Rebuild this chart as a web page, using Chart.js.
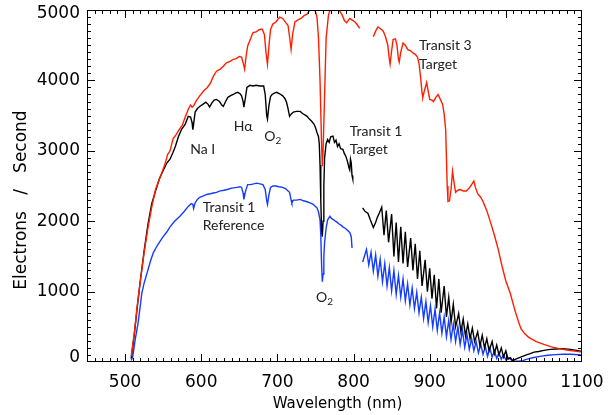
<!DOCTYPE html>
<html>
<head>
<meta charset="utf-8">
<script src="https://cdn.jsdelivr.net/npm/chart.js@4.4.1/dist/chart.umd.min.js"></script>
<style>
  html, body { margin: 0; padding: 0; background: #fff; }
  #wrap { width: 610px; height: 415px; position: relative; }
</style>
</head>
<body>
<div id="wrap"><canvas id="c"></canvas></div>
<script>
// ---- Data: [wavelength nm, electrons/second]; null marks a gap ----
const transit3Target = [
  [508,80],[512,400],[516,800],[520,1150],[525,1550],[530,1900],[535,2200],[540,2450],[545,2600],[548,2680],
  [552,2800],[556,2950],[559,3000],[563,3170],[567,3230],[571,3300],[575,3360],[579,3480],[583,3590],[586,3650],
  [588,3620],[590,3640],[594,3720],[598,3780],[603,3850],[608,3900],[612,3960],[616,4060],[620,4130],[625,4160],
  [629,4200],[633,4250],[638,4270],[642,4300],[646,4310],[650,4340],[653,4330],[655,4250],[657,4160],[659,4350],
  [661,4490],[665,4600],[668,4680],[672,4690],[676,4720],[680,4730],[683,4650],[685,4400],[687,4230],[689,4500],
  [691,4720],[694,4800],[698,4830],[703,4900],[707,4880],[711,4820],[714,4780],[716,4620],[718,4440],[720,4650],
  [723,4830],[727,4860],[731,4880],[735,4920],[739,4940],[742,4990],[745,5030],[749,5010],[752,4900],[754,4600],
  [756,4000],[758,3100],[759,2780],[760,3000],[762,3800],[764,4600],[767,4920],[770,5040],[774,5060],[778,5030],
  [782,4980],[785,4930],[788,4850],[791,4820],[795,4880],[798,4860],[802,4830],[805,4790],[808,4740],[815,null],
  [826,4620],[829,4700],[832,4760],[836,4730],[839,4700],[842,4620],[845,4500],[847,4300],[848,4230],[850,4420],
  [852,4580],[855,4590],[857,4500],[859,4300],[860,4260],[862,4400],[865,4530],[868,4500],[871,4440],[875,4420],
  [878,4390],[881,4370],[884,4330],[886,4240],[888,4050],[890,3820],[891,3760],[893,3850],[896,3970],[898,3850],
  [900,3730],[903,3720],[905,3700],[908,3760],[911,3800],[914,3730],[917,3660],[919,3520],[921,3300],[922,2900],
  [923,2500],[924,2280],[926,2290],[928,2450],[930,2710],[932,2550],[934,2410],[937,2440],[940,2450],[944,2430],
  [948,2430],[952,2470],[955,2520],[958,2570],[960,2480],[963,2390],[967,2340],[970,2280],[975,2150],[980,1980],
  [985,1800],[990,1600],[995,1360],[1000,1150],[1006,970],[1012,730],[1017,560],[1020,470],[1025,400],[1030,350],
  [1040,290],[1050,250],[1060,215],[1070,190],[1080,170],[1090,155],[1100,140]
];

const transit1Target = [
  [508,50],[512,380],[516,780],[520,1150],[525,1580],[530,1950],[535,2250],[540,2430],[545,2600],[550,2720],
  [555,2830],[559,2880],[563,2980],[566,3060],[570,3200],[574,3300],[579,3380],[583,3490],[586,3480],[588,3400],
  [589,3300],[590,3380],[592,3550],[595,3600],[598,3630],[602,3660],[606,3690],[609,3660],[611,3620],[614,3680],
  [617,3720],[620,3730],[624,3700],[627,3650],[629,3630],[632,3700],[635,3760],[638,3780],[642,3800],[645,3820],
  [648,3830],[651,3810],[653,3780],[655,3700],[656,3620],[658,3750],[660,3900],[664,3930],[668,3920],[672,3930],
  [677,3920],[682,3920],[684,3800],[686,3500],[687,3450],[689,3650],[691,3770],[693,3800],[696,3820],[699,3830],
  [703,3810],[707,3780],[710,3740],[712,3690],[714,3600],[716,3490],[718,3520],[721,3550],[725,3560],[730,3560],
  [733,3530],[736,3510],[739,3490],[742,3450],[745,3420],[748,3380],[750,3330],[752,3260],[754,3200],[755,3100],
  [756,2800],[757,2300],[758,1900],[759,1780],[760,2000],[761,2500],[762,2900],[764,3100],[766,3160],[768,3120],
  [770,3200],[773,3210],[775,3120],[777,3150],[779,3060],[781,3100],[783,3030],[786,3020],[788,2960],[790,2920],
  [792,2850],[794,2760],[795,2730],[796,2880],[797,2830],[798,2650],[799,2600],[805,null],
  [812,2190],[815,2140],[819,2110],[822,2020],[826,1910],[829,1980],[831,2050],[834,2120],[837,2200],[840,1800],
  [843,2150],[846,1700],[850,2100],[853,1500],[856,1980],[859,1420],[862,1920],[865,1400],[868,1850],[871,1350],
  [875,1760],[878,1300],[881,1680],[884,1180],[887,1580],[890,1080],[894,1450],[897,1000],[900,1330],[903,900],
  [906,1240],[909,760],[912,1180],[915,700],[919,1080],[922,640],[925,920],[928,560],[931,820],[934,500],
  [938,690],[941,430],[944,610],[947,370],[950,540],[953,330],[956,480],[959,290],[963,430],[966,230],
  [969,380],[972,200],[975,330],[978,160],[982,290],[985,120],[988,240],[991,100],[994,200],[997,70],
  [1000,160],[1003,40],[1006,60],[1009,20],[1013,40],[1017,60],[1022,80],[1027,100],[1032,120],[1037,140],
  [1043,150],[1050,165],[1058,180],[1066,185],[1075,190],[1085,180],[1093,165],[1100,150]
];

const transit1Reference = [
  [508,20],[510,70],[513,300],[517,550],[520,800],[522,980],[525,1120],[529,1270],[533,1420],[537,1550],
  [541,1630],[545,1700],[550,1780],[555,1850],[559,1920],[565,2000],[572,2070],[577,2130],[583,2210],[587,2250],
  [589,2240],[590,2180],[592,2260],[595,2310],[598,2340],[603,2360],[607,2380],[612,2390],[616,2400],[620,2410],
  [625,2430],[630,2440],[634,2450],[640,2470],[647,2480],[651,2490],[653,2480],[655,2400],[656,2310],[658,2420],
  [661,2520],[665,2520],[669,2530],[673,2540],[677,2530],[681,2520],[684,2450],[686,2290],[687,2240],[689,2380],
  [691,2480],[694,2500],[698,2500],[702,2490],[707,2480],[711,2460],[714,2430],[716,2410],[718,2300],[719,2260],
  [721,2300],[725,2300],[730,2310],[734,2290],[738,2280],[743,2260],[747,2240],[750,2210],[752,2190],[754,2130],
  [756,2020],[757,1800],[758,1400],[759,1140],[760,1250],[761,1500],[762,1700],[764,1900],[766,2020],[769,2070],
  [771,2040],[774,2020],[776,2000],[778,1990],[781,1960],[784,1940],[786,1920],[789,1900],[792,1870],[795,1840],
  [797,1780],[798,1620],[805,null],
  [812,1420],[817,1600],[820,1380],[823,1560],[826,1290],[829,1520],[832,1220],[835,1460],[838,1140],[841,1400],
  [844,1080],[847,1340],[850,1010],[853,1300],[856,960],[859,1230],[862,920],[865,1180],[868,870],[871,1110],
  [874,810],[877,1050],[880,760],[883,990],[886,700],[889,920],[892,620],[895,860],[898,560],[901,800],
  [904,500],[907,750],[910,450],[913,700],[916,410],[919,640],[922,360],[925,590],[928,320],[931,540],
  [934,290],[937,500],[940,250],[943,450],[946,210],[949,390],[952,180],[955,330],[958,160],[961,290],
  [964,130],[967,250],[970,110],[973,220],[976,80],[979,200],[982,70],[985,160],[988,50],[991,130],
  [994,40],[997,100],[1000,30],[1004,60],[1008,20],[1012,10],[1017,10],[1022,20],[1028,40],[1035,60],
  [1045,80],[1055,95],[1065,105],[1075,110],[1085,110],[1100,100]
];

// ---- Axes ----
const xRange = [450, 1100];
const yRange = [0, 5000];
const xTickLabels = [500, 600, 700, 800, 900, 1000, 1100];
const yTickLabels = [0, 1000, 2000, 3000, 4000, 5000];
const xMinorStep = 10;
const yMinorStep = 100;
const xTitle = 'Wavelength (nm)';
const yTitle = 'Electrons   /   Second';

// ---- Annotations: [text, wavelength, value, align] ----
const annotations = [
  ['Na I', 602, 3020, 'center'],
  ['H\u03b1', 655, 3350, 'center'],
  ['O|2', 694, 3200, 'center'],
  ['Transit 1', 795, 3280, 'left'],
  ['Target', 795, 3020, 'left'],
  ['Transit 3', 886, 4490, 'left'],
  ['Target', 886, 4230, 'left'],
  ['Transit 1', 602, 2190, 'left'],
  ['Reference', 602, 1940, 'left'],
  ['O|2', 762, 910, 'center']
];

const toPoints = arr => arr.map(p => ({x: p[0], y: p[1]}));

const frame = {
  id: 'frame',
  afterDraw(chart) {
    const {ctx, chartArea: a, scales: {x, y}} = chart;
    const L = Math.round(a.left), R = Math.round(a.right), T = Math.round(a.top), B = Math.round(a.bottom);
    ctx.save();
    ctx.fillStyle = '#000';
    // box
    ctx.fillRect(L, T, R - L, 1);
    ctx.fillRect(L, B - 1, R - L, 1);
    ctx.fillRect(L, T, 1, B - T);
    ctx.fillRect(R - 1, T, 1, B - T);
    // x ticks (inward, top and bottom)
    for (let v = xRange[0]; v <= xRange[1]; v += xMinorStep) {
      const px = Math.round(x.getPixelForValue(v));
      const len = xTickLabels.includes(v) ? 8 : 4;
      const cx = Math.min(Math.max(px, L), R - 1);
      ctx.fillRect(cx, B - len, 1, len);
      ctx.fillRect(cx, T, 1, len);
    }
    // y ticks (inward, left and right)
    for (let v = yRange[0]; v <= yRange[1]; v += yMinorStep) {
      const py = Math.round(y.getPixelForValue(v));
      const len = yTickLabels.includes(v) ? 8 : 4;
      const cy = Math.min(Math.max(py, T), B - 1);
      ctx.fillRect(L, cy, len, 1);
      ctx.fillRect(R - len, cy, len, 1);
    }
    // tick labels
    ctx.font = '17px "DejaVu Sans"';
    ctx.textBaseline = 'middle';
    ctx.textAlign = 'center';
    for (const v of xTickLabels) {
      ctx.fillText(String(v), x.getPixelForValue(v), 383);
    }
    ctx.textAlign = 'right';
    for (const v of yTickLabels) {
      let py = y.getPixelForValue(v);
      if (v === yRange[0]) py -= 4;
      if (v === yRange[1]) py += 4;
      ctx.fillText(String(v), 80, py);
    }
    // axis titles
    ctx.font = '15px "DejaVu Sans"';
    ctx.textAlign = 'center';
    ctx.fillText(xTitle, (L + R) / 2 + 3, 404);
    ctx.save();
    ctx.translate(22, 200);
    ctx.rotate(-Math.PI / 2);
    ctx.font = '17px "DejaVu Sans"';
    ctx.fillText(yTitle, 0, 0);
    ctx.restore();

    // annotations
    ctx.fillStyle = '#222';
    const f = '14px Lato';
    for (const [txt, wl, val, align] of annotations) {
      const px = x.getPixelForValue(wl);
      const py = y.getPixelForValue(val);
      if (txt.includes('|')) {
        const [main, sub] = txt.split('|');
        ctx.font = f;
        const w1 = ctx.measureText(main).width;
        ctx.font = '10px Lato';
        const w2 = ctx.measureText(sub).width;
        const start = align === 'center' ? px - (w1 + w2) / 2 : px;
        ctx.textAlign = 'left';
        ctx.font = f;
        ctx.fillText(main, start, py);
        ctx.font = '10px Lato';
        ctx.fillText(sub, start + w1, py + 4);
      } else {
        ctx.font = f;
        ctx.textAlign = align;
        ctx.fillText(txt, px, py);
      }
    }
    ctx.restore();
  }
};

const mk = (data, color) => ({
  data: toPoints(data),
  borderColor: color,
  borderWidth: 1.4,
  pointRadius: 0,
  tension: 0,
  spanGaps: false,
  clip: 0
});

new Chart(document.getElementById('c'), {
  type: 'line',
  data: {
    datasets: [
      mk(transit3Target, 'rgb(255,30,0)'),
      mk(transit1Target, '#000000'),
      mk(transit1Reference, 'rgb(20,60,255)')
    ]
  },
  options: {
    responsive: true,
    maintainAspectRatio: false,
    animation: false,
    events: [],
    layout: { padding: { left: 0, top: 10, right: 28, bottom: 0 } },
    plugins: { legend: { display: false }, tooltip: { enabled: false } },
    scales: {
      x: {
        type: 'linear',
        min: xRange[0], max: xRange[1],
        afterBuildTicks: s => { s.ticks = xTickLabels.map(v => ({value: v})); },
        afterFit: s => { s.height = 53; },
        grid: { display: false, drawTicks: false },
        border: { display: false },
        ticks: { display: false }
      },
      y: {
        min: yRange[0], max: yRange[1],
        afterBuildTicks: s => { s.ticks = yTickLabels.map(v => ({value: v})); },
        afterFit: s => { s.width = 87; },
        grid: { display: false, drawTicks: false },
        border: { display: false },
        ticks: { display: false }
      }
    }
  },
  plugins: [frame]
});
</script>
</body>
</html>
